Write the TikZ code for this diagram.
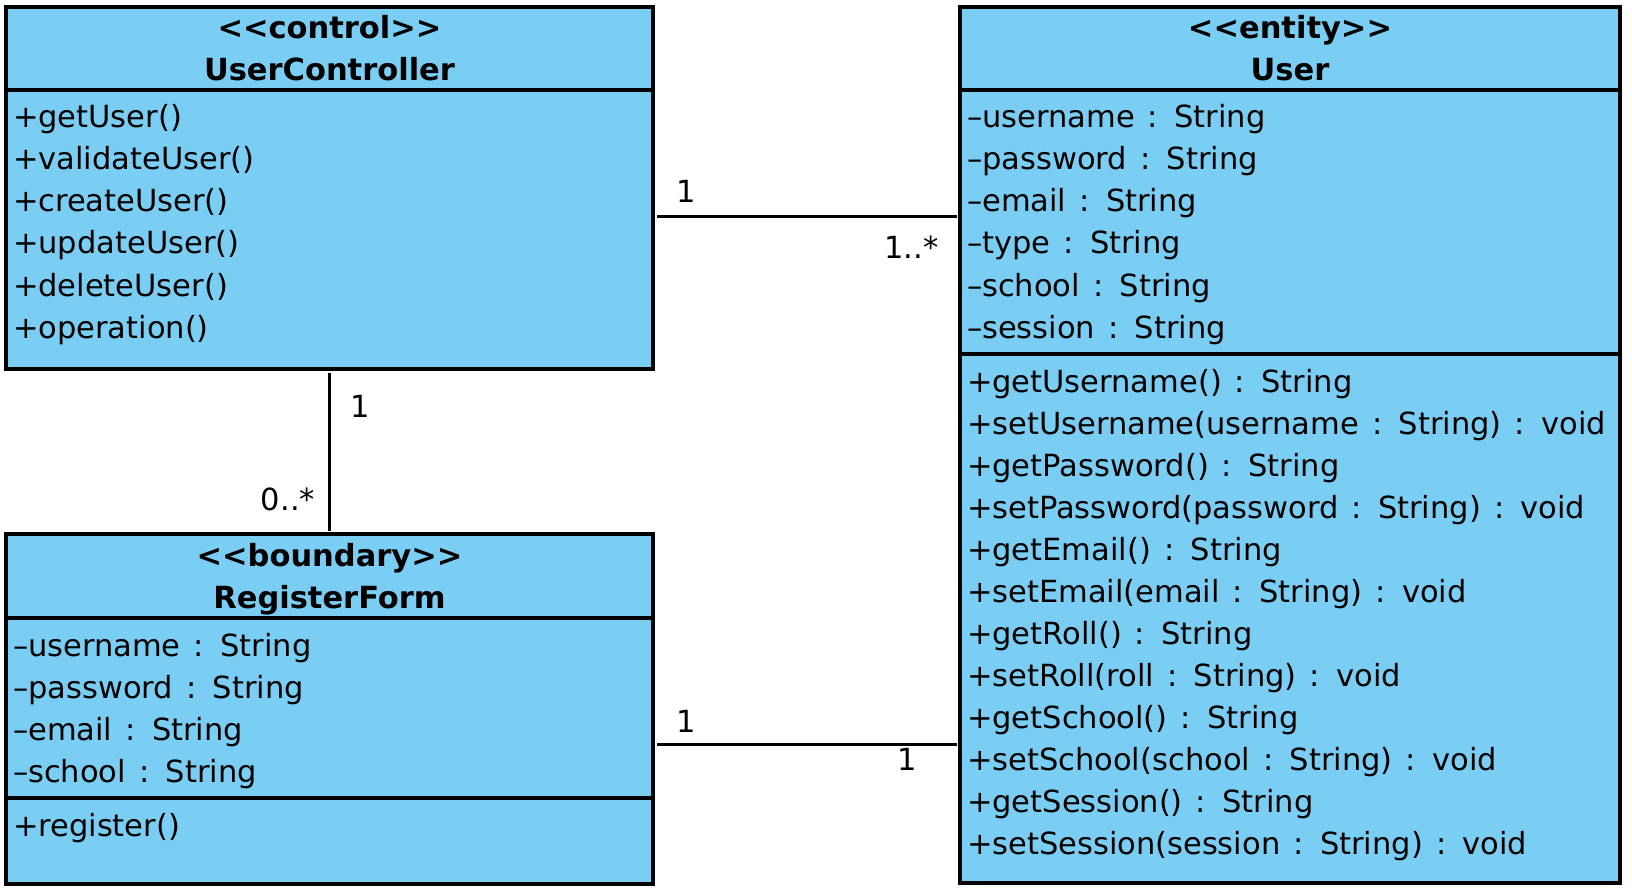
\documentclass[tikz,border=0pt]{standalone}
\usepackage{fontspec}
\setmainfont[WordSpace=1.35]{DejaVu Sans}
\usepackage{tikz}
\definecolor{classblue}{RGB}{122,206,243}

\begin{document}
\begin{tikzpicture}[x=0.5pt, y=-0.5pt,
    every node/.style={font=\fontsize{15.25}{21}\selectfont, inner sep=0pt, outer sep=0pt},
    classbox/.style={draw=black, fill=classblue, line width=1.6pt, anchor=north west},
    classtitle/.style={font=\fontsize{15.25}{21}\selectfont\bfseries, anchor=base},
    member/.style={anchor=base west},
    compline/.style={line width=1.6pt},
    assoc/.style={line width=1.5pt, shorten <=1.75pt, shorten >=1.75pt}]
    \path[fill=white] (0,0) rectangle (1632,893);                 % page

    % UserController
    \node[classbox, minimum width=323.5pt, minimum height=181pt] (ctrl) at (6,7) {};
    \draw[compline] (6,90) -- (653,90);                            % header line
    \node[classtitle] (ctrlstereo) at ([yshift=-16pt]ctrl.north) {<{}<control>{}>};
    \node[classtitle] (ctrlname) at ([yshift=-37pt]ctrl.north) {UserController};
    \node[member] (ctrlop1) at (13,128) {+getUser()};
    \node[member] (ctrlop2) at (13,170) {+validateUser()};
    \node[member] (ctrlop3) at (13,212) {+createUser()};
    \node[member] (ctrlop4) at (13,254) {+updateUser()};
    \node[member] (ctrlop5) at (13,296) {+deleteUser()};
    \node[member] (ctrlop6) at (13,338) {+operation()};

    % RegisterForm
    \node[classbox, minimum width=323.5pt, minimum height=175pt] (form) at (6,534) {};
    \draw[compline] (6,618) -- (653,618);                          % header line
    \draw[compline] (6,798) -- (653,798);                          % attribute line
    \node[classtitle] (formstereo) at ([yshift=-16pt]form.north) {<{}<boundary>{}>};
    \node[classtitle] (formname) at ([yshift=-37pt]form.north) {RegisterForm};
    \node[member] (format1) at (13,656) {–username : String};
    \node[member] (format2) at (13,698) {–password : String};
    \node[member] (format3) at (13,740) {–email : String};
    \node[member] (format4) at (13,782) {–school : String};
    \node[member] (formop1) at (13,836) {+register()};

    % User
    \node[classbox, minimum width=330pt, minimum height=438pt] (user) at (960,7) {};
    \draw[compline] (960,90) -- (1620,90);                         % header line
    \draw[compline] (960,354) -- (1620,354);                       % attribute line
    \node[classtitle] (userstereo) at ([yshift=-16pt]user.north) {<{}<entity>{}>};
    \node[classtitle] (username) at ([yshift=-37pt]user.north) {User};
    \node[member] (userat1) at (967,128) {–username : String};
    \node[member] (userat2) at (967,170) {–password : String};
    \node[member] (userat3) at (967,212) {–email : String};
    \node[member] (userat4) at (967,254) {–type : String};
    \node[member] (userat5) at (967,296) {–school : String};
    \node[member] (userat6) at (967,338) {–session : String};
    \node[member] (userop1) at (967,392) {+getUsername() : String};
    \node[member] (userop2) at (967,434) {+setUsername(username : String) : void};
    \node[member] (userop3) at (967,476) {+getPassword() : String};
    \node[member] (userop4) at (967,518) {+setPassword(password : String) : void};
    \node[member] (userop5) at (967,560) {+getEmail() : String};
    \node[member] (userop6) at (967,602) {+setEmail(email : String) : void};
    \node[member] (userop7) at (967,644) {+getRoll() : String};
    \node[member] (userop8) at (967,686) {+setRoll(roll : String) : void};
    \node[member] (userop9) at (967,728) {+getSchool() : String};
    \node[member] (userop10) at (967,770) {+setSchool(school : String) : void};
    \node[member] (userop11) at (967,812) {+getSession() : String};
    \node[member] (userop12) at (967,854) {+setSession(session : String) : void};

    % associations
    \coordinate (ctrlend) at ([yshift=-14.5pt]ctrl.east);
    \coordinate (userend) at (ctrlend -| user.west);
    \draw[assoc] (ctrlend) -- (userend);                           % control -- entity
    \node[anchor=base west] (m1) at ([xshift=11.5pt, yshift=7pt]ctrlend) {1};
    \node[anchor=base east] (m2) at ([xshift=-10.75pt, yshift=-20.5pt]userend) {1..*};

    \draw[assoc] (ctrl.south) -- (form.north);                     % control -- boundary
    \node[anchor=base west] (m3) at ([xshift=10.25pt, yshift=-24pt]ctrl.south) {1};
    \node[anchor=base east] (m4) at ([xshift=-7.25pt, yshift=12pt]form.north) {0..*};

    \coordinate (formend) at ([yshift=-17.5pt]form.east);
    \coordinate (userend2) at (formend -| user.west);
    \draw[assoc] (formend) -- (userend2);                          % boundary -- entity
    \node[anchor=base west] (m5) at ([xshift=11.5pt, yshift=6pt]formend) {1};
    \node[anchor=base east] (m6) at ([xshift=-21.5pt, yshift=-13pt]userend2) {1};
\end{tikzpicture}
\end{document}
